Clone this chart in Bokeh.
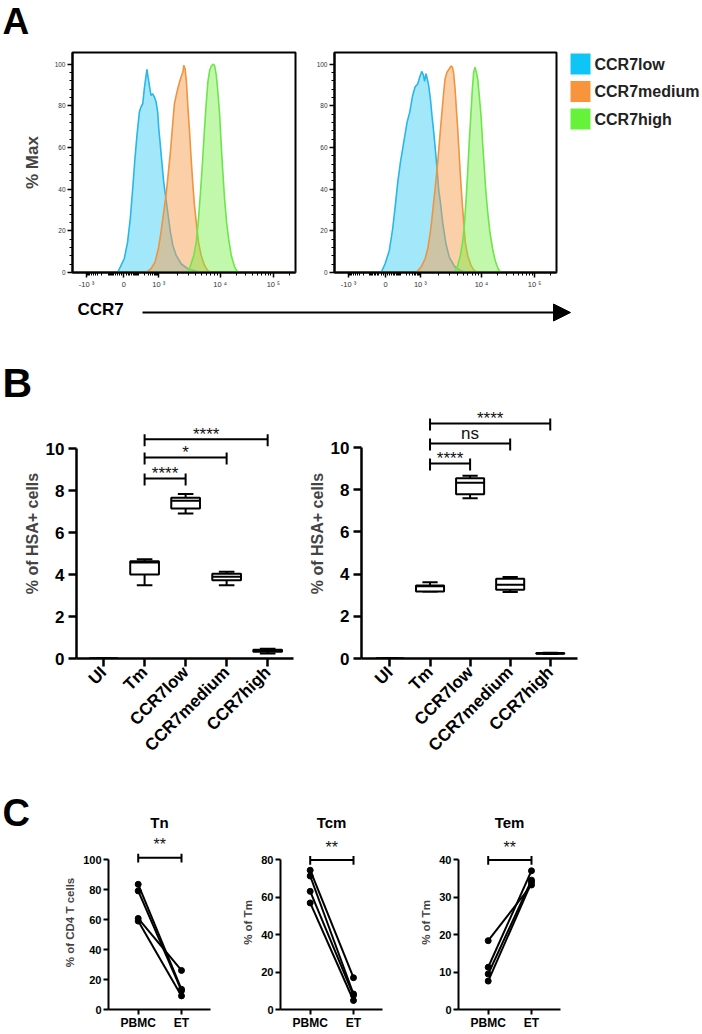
import math
from bokeh.plotting import figure
from bokeh.layouts import column, row
from bokeh.models import (Range1d, FixedTicker, Label, Arrow, NormalHead, ColumnDataSource)
from bokeh.embed import file_html
from bokeh.resources import INLINE
from bokeh.core.properties import value

FONT = "Liberation Sans"

# ---------------- Panel A: CCR7 histograms ----------------
hist_series = ["CCR7low", "CCR7medium", "CCR7high"]
hist_line_colors = ["#29B7E8", "#EF9440", "#6CE64A"]
hist_fill_colors = ["#16C3F3", "#F8A050", "#76EF44"]
hist_fill_alpha = [0.4, 0.5, 0.45]
legend_colors = ["#0FC5F5", "#F8953C", "#66F23A"]

hist_tick_pos = [63, 230, 387, 662, 901]
hist_tick_labels = ["-10 ³", "0", "10 ³", "10 ⁴", "10 ⁵"]
hist_y_ticks = [0, 20, 40, 60, 80, 100]

# left histogram (x: display channel 0-1000, y: % of max)
a1_low_x = [0, 202, 214, 232, 247, 259, 270, 280, 289, 300, 307, 315, 322, 330, 334, 340, 346, 352, 360, 367,
            375, 382, 387, 394, 402, 409, 417, 427, 439, 450, 465, 487, 517, 562, 607, 1000]
a1_low_y = [0, 0, 2.6, 6.6, 14.6, 25.8, 40.2, 54.6, 65.8, 77, 79.4, 81, 88.2, 94.6, 97.5, 93, 89, 85, 85.8, 84.2,
            81.8, 77, 69, 61, 51.4, 43.4, 37, 29, 19.4, 13, 8.2, 4.2, 1.8, 0.5, 0, 0]
a1_med_x = [0, 330, 352, 370, 385, 397, 409, 421, 430, 439, 450, 457, 465, 472, 480, 487, 495, 499, 505, 511, 517,
            525, 532, 540, 547, 555, 565, 577, 592, 607, 622, 1000]
a1_med_y = [0, 0, 1.8, 5, 11.4, 19.4, 29, 38.6, 48.2, 57.8, 72.2, 81, 85, 88.2, 91.4, 93.8, 96.2, 99.4, 97.8, 91.4,
            80.2, 67.4, 54.6, 41.8, 32.2, 24.2, 14.6, 8.2, 3.4, 0.8, 0, 0]
a1_high_x = [0, 517, 529, 544, 555, 565, 574, 583, 592, 600, 607, 615, 622, 630, 637, 645, 652, 660, 667, 675, 682,
             691, 700, 712, 727, 742, 1000]
a1_high_y = [0, 0, 3.4, 8.2, 14.6, 25.8, 38.6, 53, 69, 81.8, 91.4, 97, 99, 100, 99.4, 94.6, 86.6, 75.4, 61, 46.6,
             35.4, 24.2, 16.2, 8.2, 2.6, 0, 0]

# right histogram
a2_low_x = [0, 210, 228, 247, 262, 274, 285, 297, 312, 327, 339, 352, 363, 375, 384, 393, 400, 406, 412, 418, 424,
            432, 439, 447, 454, 462, 469, 477, 487, 502, 517, 540, 570, 600, 1000]
a2_low_y = [0, 0, 4.2, 10.6, 21, 32.2, 43.4, 53, 62.6, 72.2, 77, 85, 89, 90.6, 93.8, 96.5, 94.9, 91.7, 95.4, 92.9,
            89.8, 83.4, 75.4, 67.4, 59.4, 49.8, 40.2, 33.8, 24.2, 13.8, 7.4, 3, 0.8, 0, 0]
a2_med_x = [0, 367, 390, 408, 420, 432, 442, 453, 465, 475, 484, 492, 498, 507, 517, 525, 531, 537, 543, 549, 555,
            561, 567, 574, 582, 589, 600, 615, 630, 652, 1000]
a2_med_y = [0, 0, 2.6, 6.6, 11.4, 19.4, 29, 40.2, 53, 65.8, 77, 86.6, 93, 96.2, 97.8, 99.1, 98.6, 95.4, 88.2, 78.6,
            69, 57.8, 46.6, 35.4, 24.2, 14.6, 8.2, 3.4, 0.8, 0, 0]
a2_high_x = [0, 540, 555, 567, 577, 585, 592, 600, 607, 615, 621, 627, 633, 639, 645, 652, 660, 667, 675, 682, 690,
             700, 712, 724, 738, 750, 1000]
a2_high_y = [0, 0, 3.4, 8.2, 14.6, 22.6, 33.8, 48.2, 62.6, 77, 88.2, 96.2, 98.6, 96.2, 93, 85, 75.4, 62.6, 49.8,
             38.6, 29, 19.4, 11.4, 5.6, 1.6, 0, 0]

# ---------------- Panel B: % of HSA+ cells ----------------
box_categories = ["UI", "Tm", "CCR7low", "CCR7medium", "CCR7high"]
b1_min = [0, 3.49, 6.90, 3.49, 0.24]
b1_q1 = [0, 4.00, 7.14, 3.73, 0.32]
b1_med = [0, 4.57, 7.51, 3.89, 0.37]
b1_q3 = [0, 4.63, 7.65, 4.03, 0.42]
b1_max = [0, 4.73, 7.83, 4.13, 0.46]
b2_min = [0, 3.18, 7.59, 3.15, 0.21]
b2_q1 = [0, 3.18, 7.78, 3.26, 0.22]
b2_med = [0, 3.42, 8.33, 3.50, 0.24]
b2_q3 = [0, 3.46, 8.54, 3.78, 0.26]
b2_max = [0, 3.61, 8.66, 3.86, 0.27]
sig_from = "Tm"
sig_to = ["CCR7low", "CCR7medium", "CCR7high"]
b1_sig_y = [8.57, 9.57, 10.44]
b1_sig_text = ["****", "*", "****"]
b2_sig_y = [9.24, 10.19, 11.14]
b2_sig_text = ["****", "ns", "****"]
b_y_ticks = [0, 2, 4, 6, 8, 10]

# ---------------- Panel C: paired PBMC vs ET ----------------
pair_groups = ["PBMC", "ET"]
c_titles = ["Tn", "Tcm", "Tem"]
tn_pbmc = [83.7, 79.3, 60.9, 59.1]
tn_et = [13.5, 12.6, 26.1, 9.1]
tcm_pbmc = [74.5, 71.4, 63.2, 57.0]
tcm_et = [17.0, 8.3, 7.6, 4.8]
tem_pbmc = [18.4, 11.3, 9.5, 7.6]
tem_et = [33.3, 37.1, 34.6, 34.0]
tn_ticks = [0, 20, 40, 60, 80, 100]
tcm_ticks = [0, 20, 40, 60, 80]
tem_ticks = [0, 10, 20, 30, 40]
c_sig_y = [101.5, 80, 40]
c_sig_text = ["**", "**", "**"]


def base_fig(width, height, x_range, y_range, mbl, mbr, mbt, mbb):
    p = figure(width=width, height=height, x_range=x_range, y_range=y_range,
               output_backend="svg", toolbar_location=None,
               min_border_left=mbl, min_border_right=mbr,
               min_border_top=mbt, min_border_bottom=mbb)
    p.grid.visible = False
    p.outline_line_color = None
    p.background_fill_color = "white"
    p.border_fill_color = "white"
    return p


def blank_fig(width, height):
    p = base_fig(width, height, Range1d(0, 1), Range1d(0, 1), 0, 0, 0, 0)
    p.axis.visible = False
    return p


def style_axis(ax, lw, tick_out, label_size, standoff, bold=True, color="black"):
    ax.axis_line_width = lw
    ax.axis_line_color = "black"
    ax.major_tick_line_width = lw
    ax.major_tick_line_color = "black"
    ax.major_tick_in = 0
    ax.major_tick_out = tick_out
    ax.minor_tick_line_color = None
    ax.major_label_text_font = FONT
    ax.major_label_text_font_size = label_size
    ax.major_label_text_font_style = "bold" if bold else "normal"
    ax.major_label_text_color = color
    ax.major_label_standoff = standoff


def screen_text(p, text, x, y, size, align="left", bold=True):
    p.add_layout(Label(x=x, y=y, x_units="screen", y_units="screen", text=text,
                       text_font=FONT, text_font_size=size,
                       text_font_style="bold" if bold else "normal",
                       text_color="black", text_baseline="middle", text_align=align))


# ---- histogram minor ticks (axis decoration) ----
def hist_minors():
    p_neg, p0, p1, p2, p3 = hist_tick_pos
    lin_vals = [10, 20, 30, 40, 50, 60, 70, 80, 90, 100, 200, 300, 400, 500, 600, 700, 800, 900]
    s = math.asinh(1000 / 40)
    m = []
    for v in lin_vals:
        f = math.asinh(v / 40) / s
        m.append(p0 + (p1 - p0) * f)
        m.append(p0 - (p0 - p_neg) * f)
    for lo, hi in ((p1, p2), (p2, p3)):
        m += [lo + (hi - lo) * math.log10(k) for k in range(2, 10)]
    m.append(p3 + (p3 - p2) * math.log10(2))
    return m


A_H, A_TOP, A_BOT = 254, 8, 26


def make_hist(width, mbl, mbr, xs_list, ys_list, ylabel=None):
    p = base_fig(width, A_H, Range1d(0, 1000), Range1d(0, 105.6), mbl, mbr, A_TOP, A_BOT)
    p.outline_line_color = "black"
    p.outline_line_width = 2
    for xs, ys, lc, fc, fa in zip(xs_list, ys_list, hist_line_colors, hist_fill_colors, hist_fill_alpha):
        p.varea(x=xs, y1=[0] * len(xs), y2=ys, fill_color=fc, fill_alpha=fa)
        p.line(xs, ys, line_color=lc, line_width=1.6)
    xa, ya = p.xaxis[0], p.yaxis[0]
    xa.ticker = FixedTicker(ticks=hist_tick_pos, minor_ticks=hist_minors())
    xa.major_label_overrides = dict(zip(hist_tick_pos, hist_tick_labels))
    ya.ticker = FixedTicker(ticks=hist_y_ticks,
                            minor_ticks=[v for v in range(0, 101, 4) if v not in hist_y_ticks])
    for ax in (xa, ya):
        style_axis(ax, 2, 5, "6.5px", 2, bold=False, color="#333")
        ax.major_tick_line_width = 1.5
        ax.minor_tick_line_color = "black"
        ax.minor_tick_line_width = 1
        ax.minor_tick_in = 0
        ax.minor_tick_out = 3
    xa.major_label_text_font_size = "7.5px"
    if ylabel:
        ya.axis_label = ylabel
        ya.axis_label_text_font = FONT
        ya.axis_label_text_font_size = "17px"
        ya.axis_label_text_font_style = "bold"
        ya.axis_label_standoff = 10
    return p


# top strip with panel letter A
stripA = blank_fig(700, 44)
screen_text(stripA, "A", 2, 23, "37px")

pA1 = make_hist(305, 72, 10, [a1_low_x, a1_med_x, a1_high_x], [a1_low_y, a1_med_y, a1_high_y], "% Max")
pA2 = make_hist(261, 29, 10, [a2_low_x, a2_med_x, a2_high_x], [a2_low_y, a2_med_y, a2_high_y])

# legend figure (swatch + bold label per series); y measured in px from the frame top
pLeg = base_fig(134, A_H, Range1d(0, 134), Range1d(A_H - A_TOP - A_BOT, 0), 0, 0, A_TOP, A_BOT)
pLeg.axis.visible = False
leg_y = [11.5 + 27.5 * i for i in range(len(hist_series))]
pLeg.rect(x=[14] * len(hist_series), y=leg_y, width=20, height=21,
          width_units="screen", height_units="screen", fill_color=legend_colors, line_color=None)
pLeg.text(x=[28] * len(hist_series), y=leg_y, text=hist_series, text_baseline="middle",
          text_align="left", text_font=value(FONT), text_font_size="16px", text_font_style="bold",
          text_color="#222")

# strip with the CCR7 axis arrow and panel letter B
STRIP_H = 110
strip = blank_fig(700, STRIP_H)
screen_text(strip, "CCR7", 77, STRIP_H - 11, "17px")
strip.add_layout(Arrow(x_start=142, y_start=STRIP_H - 14, x_end=570, y_end=STRIP_H - 14,
                       start_units="screen", end_units="screen", line_width=2, line_color="black",
                       end=NormalHead(size=17, fill_color="black", line_color="black")))
screen_text(strip, "B", 2, STRIP_H - 84, "41px")


def draw_sig(p, x_from, x_to_list, ys, texts, px_per_unit, font_size, up_px, dn_px, off_star, off_text):
    n = len(ys)
    x0 = [x_from] * n
    up = up_px / px_per_unit
    dn = dn_px / px_per_unit
    kw = dict(line_color="black", line_width=2)
    p.segment(x0=x0, y0=ys, x1=x_to_list, y1=ys, **kw)
    p.segment(x0=x0, y0=[y - dn for y in ys], x1=x0, y1=[y + up for y in ys], **kw)
    p.segment(x0=x_to_list, y0=[y - dn for y in ys], x1=x_to_list, y1=[y + up for y in ys], **kw)
    ty = [y + (off_star if t.startswith("*") else off_text) / px_per_unit for y, t in zip(ys, texts)]
    p.text(x=[(a + b) / 2 for a, b in zip(x0, x_to_list)], y=ty, text=texts,
           text_align="center", text_baseline="middle", text_font=value(FONT),
           text_font_size=font_size, text_color="#111")


B_H, B_BOT = 362, 112


def make_box(width, mbl, mbr, x_lo, x_hi, px_per_unit, stats, sig_y, sig_text):
    y_top = (B_H - B_BOT) / px_per_unit
    p = base_fig(width, B_H, Range1d(x_lo, x_hi), Range1d(0, y_top), mbl, mbr, 0, B_BOT)
    lo, q1, med, q3, hi = stats
    xs = list(range(len(box_categories)))
    hb, hc = 0.35, 0.19
    src = ColumnDataSource(dict(x=xs, lo=lo, q1=q1, med=med, q3=q3, hi=hi,
                                bl=[x - hb for x in xs], br=[x + hb for x in xs],
                                cl=[x - hc for x in xs], cr=[x + hc for x in xs]))
    kw = dict(line_color="black", line_width=2, source=src)
    p.segment(x0="x", y0="lo", x1="x", y1="hi", **kw)
    p.segment(x0="cl", y0="lo", x1="cr", y1="lo", **kw)
    p.segment(x0="cl", y0="hi", x1="cr", y1="hi", **kw)
    p.quad(left="bl", right="br", bottom="q1", top="q3", fill_color="white", **kw)
    p.segment(x0="bl", y0="med", x1="br", y1="med", **kw)
    draw_sig(p, box_categories.index(sig_from), [box_categories.index(c) for c in sig_to],
             sig_y, sig_text, px_per_unit, "17px", 5, 7, 5, 9.5)
    xa, ya = p.xaxis[0], p.yaxis[0]
    xa.ticker = FixedTicker(ticks=xs)
    xa.major_label_overrides = dict(zip(xs, box_categories))
    xa.major_label_orientation = math.pi / 4
    ya.ticker = FixedTicker(ticks=b_y_ticks)
    ya.bounds = (0, 10)
    style_axis(xa, 2.5, 8, "17px", 3)
    style_axis(ya, 2.5, 8, "17px", 4)
    ya.axis_label = "% of HSA+ cells"
    ya.axis_label_text_font = FONT
    ya.axis_label_text_font_size = "16px"
    ya.axis_label_text_font_style = "bold"
    ya.axis_label_standoff = 2
    return p


pB1 = make_box(305, 76, 12, -0.66, 4.63, 21.0,
               (b1_min, b1_q1, b1_med, b1_q3, b1_max), b1_sig_y, b1_sig_text)
pB2 = make_box(395, 52, 123, -0.71, 4.68, 21.1,
               (b2_min, b2_q1, b2_med, b2_q3, b2_max), b2_sig_y, b2_sig_text)

# strip with panel letter C and the three panel titles
stripC = blank_fig(700, 65)
screen_text(stripC, "C", 2, 23, "38px")
for t, cx in zip(c_titles, [159, 331, 509]):
    screen_text(stripC, t, cx, 13, "15px", align="center")

C_H = 197


def make_pair(width, mbl, mbr, ylabel, ticks, pbmc, et, sig_y, sig_text):
    frame_h = C_H - 0 - 19
    px_per_unit = 153.0 / ticks[-1]
    y_top = frame_h / px_per_unit
    p = base_fig(width, C_H, Range1d(-0.686, 1.67), Range1d(0, y_top), mbl, mbr, 0, 19)
    xi = [pair_groups.index("PBMC")] * len(pbmc)
    xj = [pair_groups.index("ET")] * len(et)
    p.segment(x0=xi, y0=pbmc, x1=xj, y1=et, line_color="black", line_width=2)
    p.scatter(x=xi + xj, y=pbmc + et, size=6, color="black")
    draw_sig(p, 0, [1], [sig_y], [sig_text], px_per_unit, "16px", 4, 5, 13, 13)
    xa, ya = p.xaxis[0], p.yaxis[0]
    xa.ticker = FixedTicker(ticks=[0, 1])
    xa.major_label_overrides = dict(zip([0, 1], pair_groups))
    ya.ticker = FixedTicker(ticks=ticks)
    ya.bounds = (0, ticks[-1])
    style_axis(xa, 2, 5, "12px", 1)
    style_axis(ya, 2, 5, "11px", 2)
    ya.axis_label = ylabel
    ya.axis_label_text_font = FONT
    ya.axis_label_text_font_size = "11.5px"
    ya.axis_label_text_font_style = "bold"
    ya.axis_label_standoff = 4
    return p


pC1 = make_pair(236, 108, 26, "% of CD4 T cells", tn_ticks, tn_pbmc, tn_et, c_sig_y[0], c_sig_text[0])
pC2 = make_pair(176, 44, 30, "% of Tm", tcm_ticks, tcm_pbmc, tcm_et, c_sig_y[1], c_sig_text[1])
pC3 = make_pair(288, 46, 140, "% of Tm", tem_ticks, tem_pbmc, tem_et, c_sig_y[2], c_sig_text[2])

layout = column(stripA,
                row(pA1, pA2, pLeg, spacing=0),
                strip,
                row(pB1, pB2, spacing=0),
                stripC,
                row(pC1, pC2, pC3, spacing=0),
                spacing=0)

open("out.html", "w").write(file_html(layout, INLINE))
